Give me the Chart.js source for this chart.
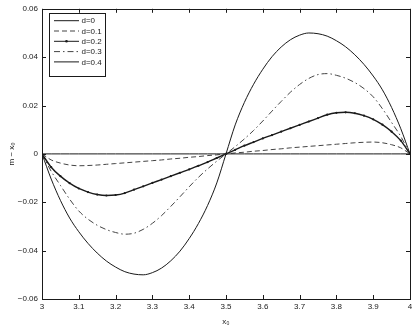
<!DOCTYPE html>
<html>
<head>
<meta charset="utf-8">
<script src="https://cdn.jsdelivr.net/npm/chart.js@4"></script>
<style>
  html, body { margin: 0; padding: 0; background: #fff; }
  #wrap { width: 419px; height: 327px; }
</style>
</head>
<body>
<div id="wrap"><canvas id="chart" width="419" height="327"></canvas></div>
<script>
// x0 sample points (step 0.025)
const xValues = [3, 3.025, 3.05, 3.075, 3.1, 3.125, 3.15, 3.175, 3.2, 3.225, 3.25, 3.275, 3.3, 3.325, 3.35, 3.375, 3.4, 3.425, 3.45, 3.475,
  3.5, 3.525, 3.55, 3.575, 3.6, 3.625, 3.65, 3.675, 3.7, 3.725, 3.75, 3.775, 3.8, 3.825, 3.85, 3.875, 3.9, 3.925, 3.95, 3.975, 4];

const seriesLabels = ['d=0', 'd=0.1', 'd=0.2', 'd=0.3', 'd=0.4'];

const d0 = [0, 0, 0, 0, 0, 0, 0, 0, 0, 0, 0, 0, 0, 0, 0, 0, 0, 0, 0, 0,
  0, 0, 0, 0, 0, 0, 0, 0, 0, 0, 0, 0, 0, 0, 0, 0, 0, 0, 0, 0, 0];
const d01 = [0, -0.0025, -0.0038, -0.0046, -0.0049, -0.0048, -0.0046, -0.0043, -0.0040, -0.0037, -0.0034, -0.0031, -0.0028, -0.0025, -0.0021, -0.0018, -0.0014, -0.0011, -0.0007, -0.0004,
  0, 0.0004, 0.0007, 0.0011, 0.0014, 0.0018, 0.0021, 0.0025, 0.0028, 0.0031, 0.0034, 0.0037, 0.0040, 0.0043, 0.0046, 0.0048, 0.0049, 0.0046, 0.0038, 0.0025, 0];
const d02 = [0, -0.0055, -0.0092, -0.0121, -0.0143, -0.0158, -0.0168, -0.0172, -0.0170, -0.0162, -0.0148, -0.0134, -0.0120, -0.0106, -0.0092, -0.0078, -0.0064, -0.0049, -0.0034, -0.0017,
  0, 0.0017, 0.0034, 0.0049, 0.0064, 0.0078, 0.0092, 0.0106, 0.0120, 0.0134, 0.0148, 0.0162, 0.0170, 0.0172, 0.0168, 0.0158, 0.0143, 0.0121, 0.0092, 0.0055, 0];
const d03 = [0, -0.0072, -0.0130, -0.0187, -0.0236, -0.0270, -0.0295, -0.0313, -0.0325, -0.0332, -0.0328, -0.0312, -0.0287, -0.0255, -0.0217, -0.0177, -0.0136, -0.0097, -0.0062, -0.0030,
  0, 0.0030, 0.0062, 0.0097, 0.0136, 0.0177, 0.0217, 0.0255, 0.0287, 0.0312, 0.0328, 0.0332, 0.0325, 0.0313, 0.0295, 0.0270, 0.0236, 0.0187, 0.0130, 0.0072, 0];
const d04 = [0, -0.0104, -0.0192, -0.0265, -0.0322, -0.0370, -0.0410, -0.0443, -0.0468, -0.0487, -0.0497, -0.0500, -0.0491, -0.0472, -0.0442, -0.0402, -0.0350, -0.0288, -0.0213, -0.0120,
  0, 0.0120, 0.0213, 0.0288, 0.0350, 0.0402, 0.0442, 0.0472, 0.0491, 0.0500, 0.0497, 0.0487, 0.0468, 0.0443, 0.0410, 0.0370, 0.0322, 0.0265, 0.0192, 0.0104, 0];

// axis ticks
const xTicks = [3, 3.1, 3.2, 3.3, 3.4, 3.5, 3.6, 3.7, 3.8, 3.9, 4];
const yTicks = [-0.06, -0.04, -0.02, 0, 0.02, 0.04, 0.06];
const yTickLabels = ['\u22120.06', '\u22120.04', '\u22120.02', '0', '0.02', '0.04', '0.06'];

const FONT = '"Liberation Sans", Arial, sans-serif';
const INK = '#1a1a1a';
const FS = 8;

function pts(ys) {
  return xValues.map((x, i) => ({ x: x, y: ys[i] }));
}

const styles = [
  { borderDash: [], pointRadius: 0 },
  { borderDash: [5, 3], pointRadius: 0 },
  { borderDash: [], pointRadius: 1.1 },
  { borderDash: [6, 3, 1.5, 3], pointRadius: 0 },
  { borderDash: [], pointRadius: 0 }
];
const allSeries = [d0, d01, d02, d03, d04];

const datasets = allSeries.map((ys, i) => ({
  label: seriesLabels[i],
  data: pts(ys),
  borderColor: i === 1 || i === 3 ? '#444' : INK,
  backgroundColor: INK,
  borderWidth: i === 2 ? 1.4 : 1,
  borderDash: styles[i].borderDash,
  pointRadius: styles[i].pointRadius,
  pointBorderWidth: 0,
  pointBackgroundColor: INK,
  cubicInterpolationMode: 'monotone',
  fill: false
}));

// box, inward ticks and legend like the original figure
const framePlugin = {
  id: 'frame',
  afterDraw(chart) {
    const ctx = chart.ctx;
    const a = chart.chartArea;
    const xs = chart.scales.x, ys = chart.scales.y;
    ctx.save();
    ctx.strokeStyle = INK;
    ctx.lineWidth = 1;
    ctx.setLineDash([]);
    ctx.strokeRect(Math.round(a.left) + 0.5, Math.round(a.top) + 0.5, Math.round(a.right - a.left), Math.round(a.bottom - a.top));
    ctx.beginPath();
    xTicks.forEach(v => {
      const p = Math.round(xs.getPixelForValue(v)) + 0.5;
      ctx.moveTo(p, a.bottom); ctx.lineTo(p, a.bottom - 4);
      ctx.moveTo(p, a.top); ctx.lineTo(p, a.top + 4);
    });
    yTicks.forEach(v => {
      const p = Math.round(ys.getPixelForValue(v)) + 0.5;
      ctx.moveTo(a.left, p); ctx.lineTo(a.left + 4, p);
      ctx.moveTo(a.right, p); ctx.lineTo(a.right - 4, p);
    });
    ctx.stroke();

    // legend
    const bx = 49.5, by = 13.5, bw = 56, bh = 63;
    ctx.fillStyle = '#fff';
    ctx.fillRect(bx, by, bw, bh);
    ctx.strokeRect(bx, by, bw, bh);
    ctx.font = FS + 'px ' + FONT;
    ctx.textBaseline = 'middle';
    ctx.textAlign = 'left';
    chart.data.datasets.forEach((ds, i) => {
      const y = 20.7 + i * 10.3;
      ctx.strokeStyle = ds.borderColor;
      ctx.lineWidth = 1;
      ctx.setLineDash(ds.borderDash);
      ctx.beginPath();
      ctx.moveTo(54, y); ctx.lineTo(79, y);
      ctx.stroke();
      if (ds.pointRadius > 0) {
        ctx.fillStyle = INK;
        ctx.beginPath();
        ctx.arc(66.5, y, 1.3, 0, Math.PI * 2);
        ctx.fill();
      }
      ctx.fillStyle = INK;
      ctx.fillText(ds.label, 81.5, y + 0.5);
    });
    ctx.restore();
  }
};

new Chart(document.getElementById('chart').getContext('2d'), {
  type: 'line',
  data: { datasets: datasets },
  options: {
    responsive: false,
    animation: false,
    layout: { padding: { top: 7, right: 9, left: 0, bottom: 0 } },
    plugins: { legend: { display: false }, tooltip: { enabled: false } },
    scales: {
      x: {
        type: 'linear',
        min: 3, max: 4,
        afterBuildTicks: s => { s.ticks = xTicks.map(v => ({ value: v })); },
        afterFit: s => { s.height = 28; },
        grid: { display: false, drawTicks: false },
        border: { display: false },
        ticks: {
          color: INK, padding: 3, maxRotation: 0, autoSkip: false,
          font: { family: FONT, size: FS },
          callback: v => String(v)
        },
        title: { display: true, text: 'x\u2080', color: INK, font: { family: FONT, size: FS }, padding: { top: 2, bottom: 0 } }
      },
      y: {
        min: -0.06, max: 0.06,
        afterBuildTicks: s => { s.ticks = yTicks.map(v => ({ value: v })); },
        afterFit: s => { s.width = 42; },
        grid: { display: false, drawTicks: false },
        border: { display: false },
        ticks: {
          color: INK, padding: 4, autoSkip: false,
          font: { family: FONT, size: FS },
          callback: (v, i) => yTickLabels[i]
        },
        title: { display: true, text: 'm \u2212 x\u2080', color: INK, font: { family: FONT, size: FS }, padding: { top: 7, bottom: 0 } }
      }
    }
  },
  plugins: [framePlugin]
});
</script>
</body>
</html>
